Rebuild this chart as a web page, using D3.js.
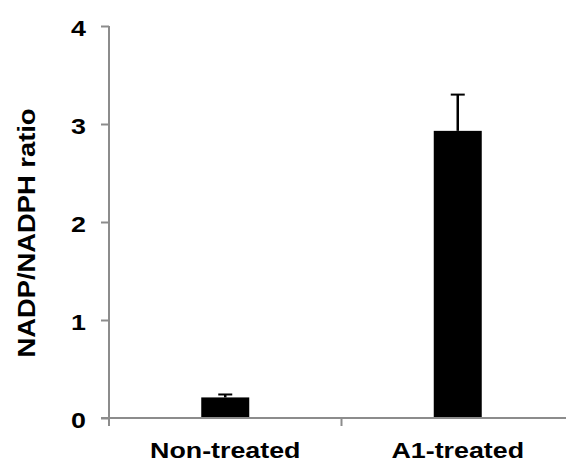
<!DOCTYPE html>
<html>
<head>
<meta charset="utf-8">
<script src="https://cdn.jsdelivr.net/npm/d3@7"></script>
<style>
  html, body { margin: 0; padding: 0; background: #fff; }
  svg { display: block; font-family: "Liberation Sans", Arial, sans-serif; }
</style>
</head>
<body>
<svg id="chart" width="566" height="462"></svg>
<script>
// NADP/NADPH ratio per treatment group, with error bars
const categories = ["Non-treated", "A1-treated"];
const means = [0.21, 2.93];
const errors = [0.03, 0.37];
const yTicks = [0, 1, 2, 3, 4];

const svg = d3.select("#chart");
const plotLeft = 109, plotRight = 574, plotTop = 26, plotBottom = 418;

const x = d3.scaleBand().domain(categories).range([plotLeft, plotRight]);
const y = d3.scaleLinear().domain([0, 4]).range([plotBottom, plotTop]);

const axisColor = "#8c8c8c";
const barWidth = 48;
const textStretch = 1.22; // wide bold lettering

// Bars
svg.selectAll("rect.bar")
  .data(categories)
  .enter().append("rect")
  .attr("class", "bar")
  .attr("x", d => x(d) + x.bandwidth() / 2 - barWidth / 2)
  .attr("width", barWidth)
  .attr("y", (d, i) => y(means[i]))
  .attr("height", (d, i) => y(0) - y(means[i]))
  .attr("fill", "#000");

// Upper error bars
const err = svg.selectAll("g.err")
  .data(categories)
  .enter().append("g")
  .attr("class", "err");
err.append("line")
  .attr("x1", d => x(d) + x.bandwidth() / 2)
  .attr("x2", d => x(d) + x.bandwidth() / 2)
  .attr("y1", (d, i) => y(means[i]))
  .attr("y2", (d, i) => y(means[i] + errors[i]))
  .attr("stroke", "#000").attr("stroke-width", 2.5);
err.append("line")
  .attr("x1", d => x(d) + x.bandwidth() / 2 - 7)
  .attr("x2", d => x(d) + x.bandwidth() / 2 + 7)
  .attr("y1", (d, i) => y(means[i] + errors[i]))
  .attr("y2", (d, i) => y(means[i] + errors[i]))
  .attr("stroke", "#000").attr("stroke-width", 2);

// Y axis
const yAxis = svg.append("g")
  .attr("transform", `translate(${plotLeft},0)`)
  .call(d3.axisLeft(y).tickValues(yTicks).tickSize(8).tickFormat(d3.format("d")));
yAxis.select(".domain").attr("stroke", axisColor).attr("stroke-width", 2).attr("d", `M0,${plotTop}V${plotBottom}`);
yAxis.selectAll(".tick line").attr("stroke", axisColor).attr("stroke-width", 2);
yAxis.selectAll(".tick text")
  .attr("x", 0)
  .attr("dy", "0.42em")
  .attr("transform", `translate(-23,0) scale(${textStretch},1)`)
  .attr("font-size", 22).attr("font-weight", "bold").attr("fill", "#000")
  .attr("font-family", "Liberation Sans, Arial, sans-serif");

// X axis: baseline with separators between categories
const xg = svg.append("g");
xg.append("line")
  .attr("x1", plotLeft - 8).attr("x2", plotRight)
  .attr("y1", plotBottom).attr("y2", plotBottom)
  .attr("stroke", axisColor).attr("stroke-width", 2);
const seps = categories.slice(1).map(c => x(c)).concat([plotLeft]);
xg.selectAll("line.sep")
  .data(seps)
  .enter().append("line")
  .attr("class", "sep")
  .attr("x1", d => d).attr("x2", d => d)
  .attr("y1", plotBottom).attr("y2", plotBottom + 8)
  .attr("stroke", axisColor).attr("stroke-width", 2);
xg.selectAll("text.cat")
  .data(categories)
  .enter().append("text")
  .attr("class", "cat")
  .attr("transform", d => `translate(${x(d) + x.bandwidth() / 2},458) scale(${textStretch},1)`)
  .attr("text-anchor", "middle")
  .attr("font-size", 22).attr("font-weight", "bold").attr("fill", "#000")
  .text(d => d);

// Y axis title
svg.append("text")
  .attr("transform", `translate(35,233) rotate(-90) scale(1.14,1)`)
  .attr("text-anchor", "middle")
  .attr("font-size", 24).attr("font-weight", "bold").attr("fill", "#000")
  .text("NADP/NADPH ratio");
</script>
</body>
</html>
